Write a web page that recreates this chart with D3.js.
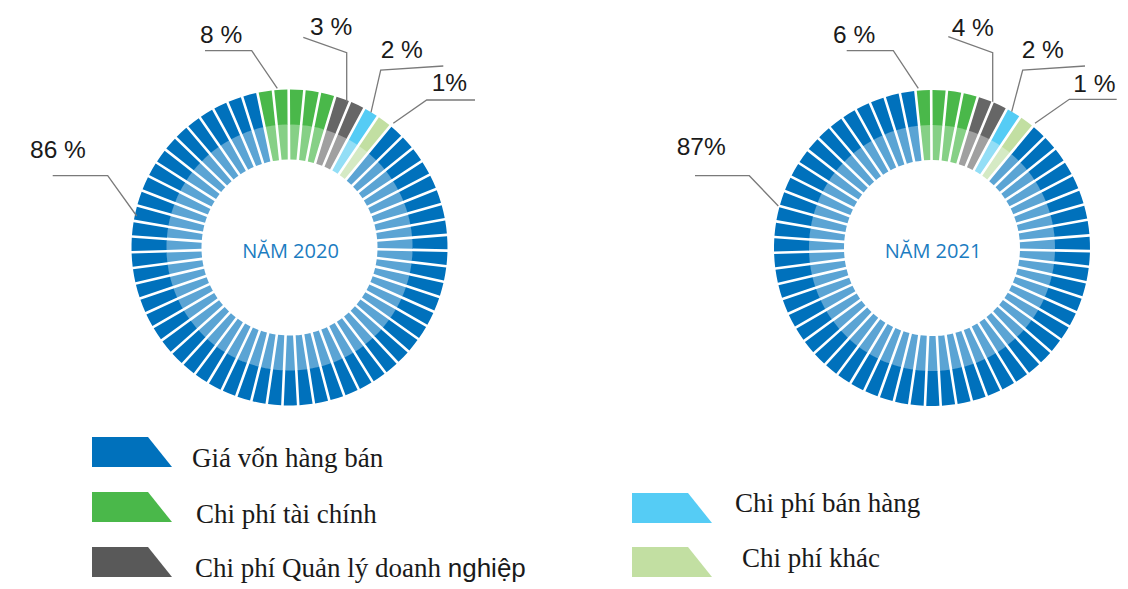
<!DOCTYPE html>
<html>
<head>
<meta charset="utf-8">
<script src="https://cdn.jsdelivr.net/npm/d3@7.9.0/dist/d3.min.js"></script>
<style>
  body { margin: 0; background: #fff; }
  svg { display: block; }
</style>
</head>
<body>
<svg id="chart" width="1128" height="589"></svg>
<script>
// categories + values
const categories = ['Giá vốn hàng bán', 'Chi phí tài chính', 'Chi phí Quản lý doanh nghiệp', 'Chi phí bán hàng', 'Chi phí khác'];
const years = ['NĂM 2020', 'NĂM 2021'];
const labels2020 = ['86 %', '8 %', '3 %', '2 %', '1%'];
const labels2021 = ['87%', '6 %', '4 %', '2 %', '1 %'];
// number of ring segments per category (63 in total)
const segments2020 = [54, 5, 2, 1, 1];
const segments2021 = [55, 4, 2, 1, 1];

const darkColors = ['#0071bc', '#4ab84a', '#666666', '#55ccf5', '#c2dfa2'];
const lightColors = ['#5ba4d4', '#86d086', '#a0a0a0', '#93def6', '#d5eac4'];

const svg = d3.select('#chart');

const rOuter = 158, rMid = 123, rInner = 88;
const gap = 2.6;

// label layout, relative to the ring centre: text pos + leader polyline
const layout2020 = [
  { t: [-259.5, -89.5], line: [[-236.8, -71.8], [-181.8, -71.8], [-152.8, -31.5]] },
  { t: [-89.5, -204.5], line: [[-84.5, -196.8], [-37.8, -196.8], [-12.2, -159.2]] },
  { t: [20.5, -212.5], line: [[13.8, -210.2], [57.2, -194.8], [57.2, -145.8]] },
  { t: [91.2, -189.5], line: [[153.8, -181.5], [91.2, -177.5], [81.5, -135.2]] },
  { t: [142.2, -156.5], line: [[185.5, -147.5], [137.2, -147.5], [103.8, -124.2]] }
];
const layout2021 = [
  { t: [-255.3, -93], line: [[-237, -72.3], [-182.7, -72.3], [-153.7, -42]] },
  { t: [-99, -204.7], line: [[-85.3, -197.3], [-38.7, -197.3], [-13.7, -159.7]] },
  { t: [19.7, -212.3], line: [[16.3, -211.3], [60.7, -195.3], [60.7, -146.3]] },
  { t: [89.7, -190.3], line: [[153, -182], [90.7, -178], [79.7, -136.3]] },
  { t: [141.3, -156.3], line: [[184.7, -148.7], [137.3, -148.7], [103, -124.7]] }
];

function drawRing(cx, cy, counts, labels, layout, title) {
  const g = svg.append('g').attr('transform', `translate(${cx},${cy})`);

  // expand counts into single segments, one per slot
  let segs = [];
  counts.forEach((n, ci) => {
    for (let i = 0; i < n; i++) segs.push({ cat: ci });
  });

  const startA = 39.7 * Math.PI / 180;
  const pie = d3.pie().value(1).sort(null)
    .startAngle(startA).endAngle(startA + 2 * Math.PI);
  const arcData = pie(segs);

  const outerArc = d3.arc().innerRadius(rMid).outerRadius(rOuter)
    .padRadius(rOuter).padAngle(gap / rOuter);
  const innerArc = d3.arc().innerRadius(rInner).outerRadius(rMid + 0.5)
    .padRadius(rOuter).padAngle(gap / rOuter);

  g.selectAll('path.in').data(arcData).join('path')
    .attr('class', 'in')
    .attr('d', innerArc)
    .attr('fill', d => lightColors[d.data.cat]);
  g.selectAll('path.out').data(arcData).join('path')
    .attr('class', 'out')
    .attr('d', outerArc)
    .attr('fill', d => darkColors[d.data.cat]);

  g.append('text')
    .attr('x', 1).attr('y', 10)
    .attr('text-anchor', 'middle')
    .attr('font-family', '"Open Sans", sans-serif')
    .attr('font-size', 20)
    .attr('fill', '#1b7cc1')
    .text(title);

  const line = d3.line();
  labels.forEach((lab, i) => {
    g.append('path')
      .attr('d', line(layout[i].line))
      .attr('fill', 'none')
      .attr('stroke', '#7a7a7a')
      .attr('stroke-width', 1.3);
    g.append('text')
      .attr('x', layout[i].t[0]).attr('y', layout[i].t[1])
      .attr('font-family', '"Liberation Sans", Arial, sans-serif')
      .attr('font-size', 24.5)
      .attr('fill', '#1a1a1a')
      .text(lab);
  });
}

drawRing(289.5, 247.5, segments2020, labels2020, layout2020, years[0]);
drawRing(932, 248, segments2021, labels2021, layout2021, years[1]);

// legend
const legendPos = [
  { x: 92, y: 437, tx: 192, ty: 467 },
  { x: 92, y: 492, tx: 196, ty: 523 },
  { x: 92, y: 547, tx: 195, ty: 577 },
  { x: 632, y: 493, tx: 735, ty: 512 },
  { x: 632, y: 547, tx: 742, ty: 567 }
];

categories.forEach((c, i) => {
  const p = legendPos[i];
  svg.append('path')
    .attr('d', `M${p.x},${p.y}H${p.x + 56}L${p.x + 80},${p.y + 30}H${p.x}Z`)
    .attr('fill', i === 2 ? '#595959' : darkColors[i]);
  const t = svg.append('text')
    .attr('x', p.tx).attr('y', p.ty)
    .attr('font-family', '"Liberation Serif", "Times New Roman", serif')
    .attr('font-size', 27)
    .attr('fill', '#1a1a1a');
  if (c.endsWith('nghiệp')) {
    t.append('tspan').text(c.replace('nghiệp', ''));
    t.append('tspan')
      .attr('font-family', '"Liberation Sans", Arial, sans-serif')
      .attr('font-size', 26)
      .text('nghiệp');
  } else {
    t.text(c);
  }
});
</script>
</body>
</html>
